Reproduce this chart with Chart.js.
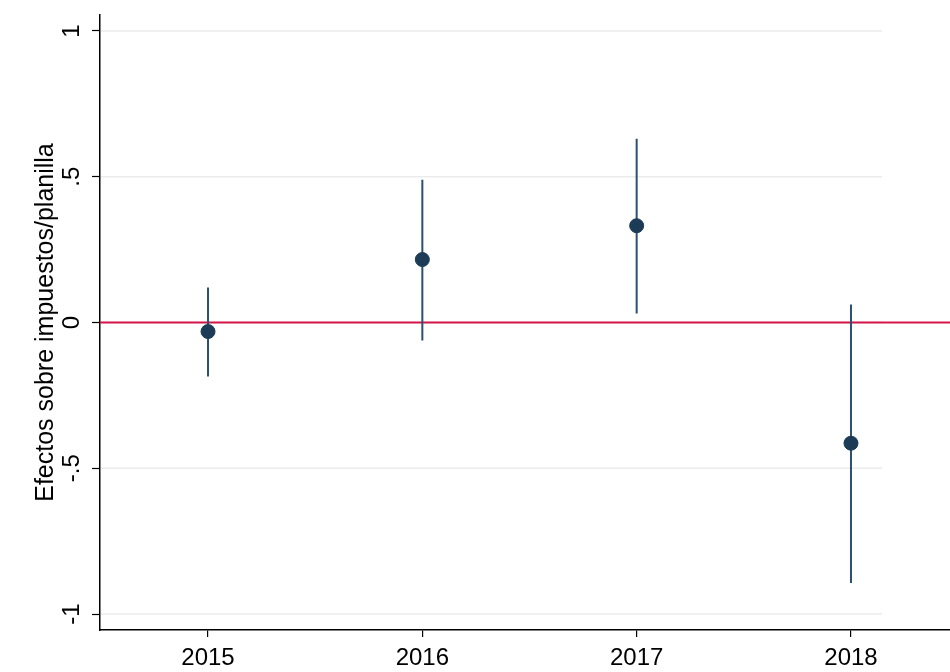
<!DOCTYPE html>
<html>
<head>
<meta charset="utf-8">
<script src="https://cdn.jsdelivr.net/npm/chart.js@4"></script>
<style>
  html, body { margin: 0; padding: 0; background: #fff; overflow: hidden; }
  #wrap { position: relative; width: 950px; height: 672px; }
  canvas { display: block; }
</style>
</head>
<body>
<div id="wrap"><canvas id="myChart"></canvas></div>
<script>
const years = [2015, 2016, 2017, 2018];
const coef = [-0.031, 0.216, 0.332, -0.414];
const ciLow = [-0.185, -0.062, 0.031, -0.894];
const ciHigh = [0.12, 0.49, 0.63, 0.062];
const yTicks = [-1, -0.5, 0, 0.5, 1];

const FONT = '"Liberation Sans", Arial, sans-serif';
const navy = '#1c3b57';

// vertical CI segments, separated by gaps
const ciPoints = [];
years.forEach((yr, i) => {
  ciPoints.push({ x: yr, y: ciLow[i] });
  ciPoints.push({ x: yr, y: ciHigh[i] });
  ciPoints.push({ x: yr, y: null });
});

const xMin = 2014.496, xMax = 2018.462;
const yFmt = v => String(v).replace('0.', '.');

// light gridlines (stop short of the right edge) + rotated y tick labels
const stataAxis = {
  id: 'stataAxis',
  beforeDatasetsDraw(chart) {
    const c = chart.ctx, y = chart.scales.y, area = chart.chartArea;
    c.save();
    c.strokeStyle = '#ebebeb';
    c.lineWidth = 1.5;
    yTicks.forEach(v => {
      const py = y.getPixelForValue(v);
      c.beginPath();
      c.moveTo(area.left + 1, py);
      c.lineTo(882, py);
      c.stroke();
    });
    c.restore();
  },
  afterDraw(chart) {
    const c = chart.ctx, y = chart.scales.y;
    c.save();
    c.fillStyle = '#000';
    c.font = '24px ' + FONT;
    c.textAlign = 'center';
    c.textBaseline = 'alphabetic';
    yTicks.forEach(v => {
      const py = y.getPixelForValue(v);
      c.save();
      c.translate(79, py);
      c.rotate(-Math.PI / 2);
      c.fillText(yFmt(v), 0, 0);
      c.restore();
    });
    c.restore();
  }
};

const ctx = document.getElementById('myChart');

new Chart(ctx, {
  type: 'scatter',
  data: {
    datasets: [
      {
        type: 'line',
        data: [{ x: xMin, y: 0 }, { x: xMax, y: 0 }],
        borderColor: '#d4154a',
        borderWidth: 2,
        pointRadius: 0,
        order: 3
      },
      {
        type: 'line',
        data: ciPoints,
        borderColor: '#2b5072',
        borderWidth: 2,
        pointRadius: 0,
        spanGaps: false,
        order: 2
      },
      {
        data: years.map((yr, i) => ({ x: yr, y: coef[i] })),
        backgroundColor: navy,
        borderColor: navy,
        pointRadius: 7,
        order: 1
      }
    ]
  },
  plugins: [stataAxis],
  options: {
    responsive: true,
    maintainAspectRatio: false,
    animation: false,
    layout: { autoPadding: false, padding: { top: 15, right: 0, left: 0, bottom: 0 } },
    plugins: { legend: { display: false }, tooltip: { enabled: false } },
    scales: {
      x: {
        type: 'linear',
        min: xMin,
        max: xMax,
        afterBuildTicks: s => { s.ticks = years.map(v => ({ value: v })); },
        afterFit: s => { s.height = 42; s.paddingLeft = 0; s.paddingRight = 0; },
        border: { color: '#000', width: 1.5 },
        grid: { drawOnChartArea: false, drawTicks: true, tickLength: 7, color: '#000', lineWidth: 1.2 },
        ticks: {
          color: '#000',
          font: { family: FONT, size: 24 },
          padding: 7,
          maxRotation: 0,
          callback: v => String(v)
        }
      },
      y: {
        min: -1.0548,
        max: 1.0548,
        afterBuildTicks: s => { s.ticks = yTicks.map(v => ({ value: v })); },
        afterFit: s => { s.width = 100; s.paddingTop = 0; s.paddingBottom = 0; },
        border: { color: '#000', width: 1.5 },
        grid: {
          drawOnChartArea: false,
          color: '#000',
          tickLength: 8,
          tickWidth: 1.2
        },
        ticks: { display: false },
        title: {
          display: true,
          text: 'Efectos sobre impuestos/planilla',
          color: '#000',
          font: { family: FONT, size: 25 },
          padding: { top: 31, bottom: 0 }
        }
      }
    }
  }
});
</script>
</body>
</html>
